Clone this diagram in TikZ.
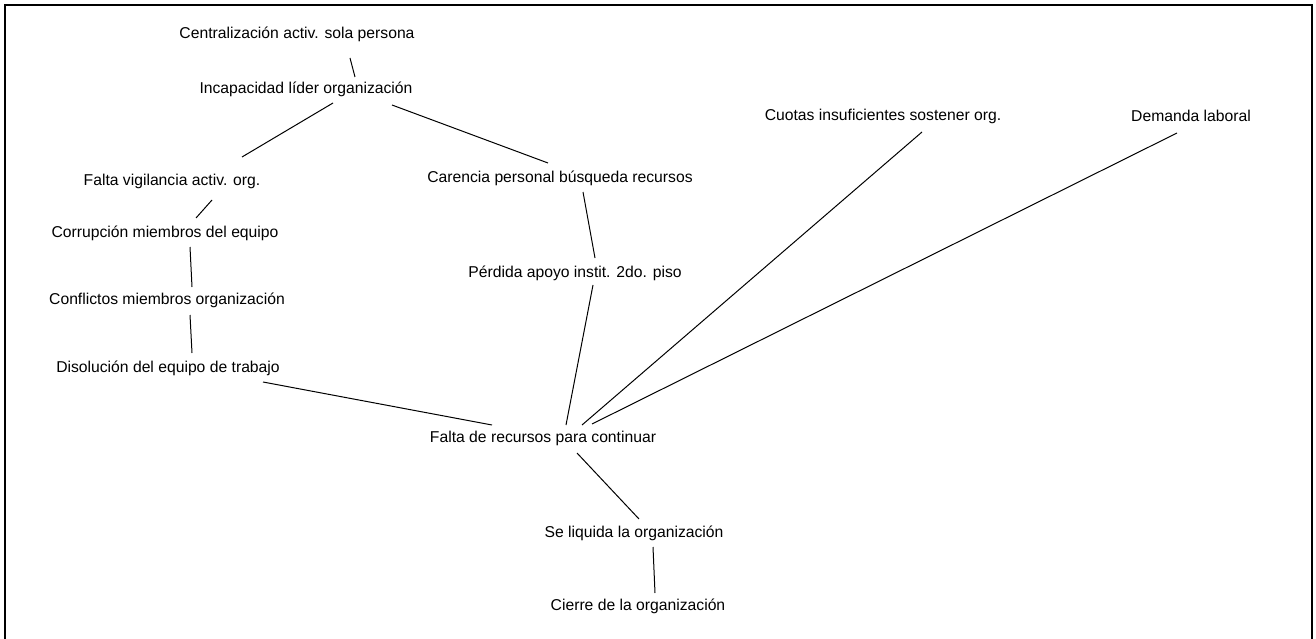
\documentclass[tikz,border=0pt]{standalone}
\usepackage{fontspec}
\setmainfont{Liberation Sans}
\begin{document}
\begin{tikzpicture}[x=1pt,y=-1pt,
  lbl/.style={inner sep=0pt,anchor=center,font=\fontsize{15.7}{18}\selectfont},
  link/.style={line width=1pt,black}]
\useasboundingbox (0,0) rectangle (1316,639);
\clip (0,0) rectangle (1316,639);
\draw[line width=2.5pt] (5,650) -- (5,5) -- (1312,5) -- (1312,650);

\node[lbl] (centr) at (297,34) {Centralización activ. sola persona};
\node[lbl] (incap) at (306,89) {Incapacidad líder organización};
\node[lbl] (fvig) at (172,181) {Falta vigilancia activ. org.};
\node[lbl] (caren) at (560,178) {Carencia personal búsqueda recursos};
\node[lbl] (corr) at (165,233) {Corrupción miembros del equipo};
\node[lbl] (conf) at (167,300) {Conflictos miembros organización};
\node[lbl] (disol) at (168,368) {Disolución del equipo de trabajo};
\node[lbl] (perd) at (575,273) {Pérdida apoyo instit. 2do. piso};
\node[lbl] (cuot) at (883,116) {Cuotas insuficientes sostener org.};
\node[lbl] (dem) at (1191,116) {Demanda laboral};
\node[lbl] (frec) at (543,438) {Falta de recursos para continuar};
\node[lbl] (liq) at (634,533) {Se liquida la organización};
\node[lbl] (cierre) at (638,606) {Cierre de la organización};

\draw[link] ([shift={(53,24)}]centr.center) -- ([shift={(49,-12)}]incap.center);
\draw[link] ([shift={(27,14)}]incap.center) -- ([shift={(70,-24)}]fvig.center);
\draw[link] ([shift={(86,16)}]incap.center) -- ([shift={(-12,-15)}]caren.center);
\draw[link] ([shift={(40,19)}]fvig.center) -- ([shift={(31,-15)}]corr.center);
\draw[link] ([shift={(25,14)}]corr.center) -- ([shift={(25,-13)}]conf.center);
\draw[link] ([shift={(23,15)}]conf.center) -- ([shift={(24,-15)}]disol.center);
\draw[link] ([shift={(95,14)}]disol.center) -- ([shift={(-51,-13)}]frec.center);
\draw[link] ([shift={(23,14)}]caren.center) -- ([shift={(20,-15)}]perd.center);
\draw[link] ([shift={(18,12)}]perd.center) -- ([shift={(23,-13)}]frec.center);
\draw[link] ([shift={(39,16)}]cuot.center) -- ([shift={(39,-13)}]frec.center);
\draw[link] ([shift={(-14,17)}]dem.center) -- ([shift={(49,-14)}]frec.center);
\draw[link] ([shift={(34,15)}]frec.center) -- ([shift={(5,-14)}]liq.center);
\draw[link] ([shift={(19,14)}]liq.center) -- ([shift={(17,-13)}]cierre.center);
\end{tikzpicture}
\end{document}
